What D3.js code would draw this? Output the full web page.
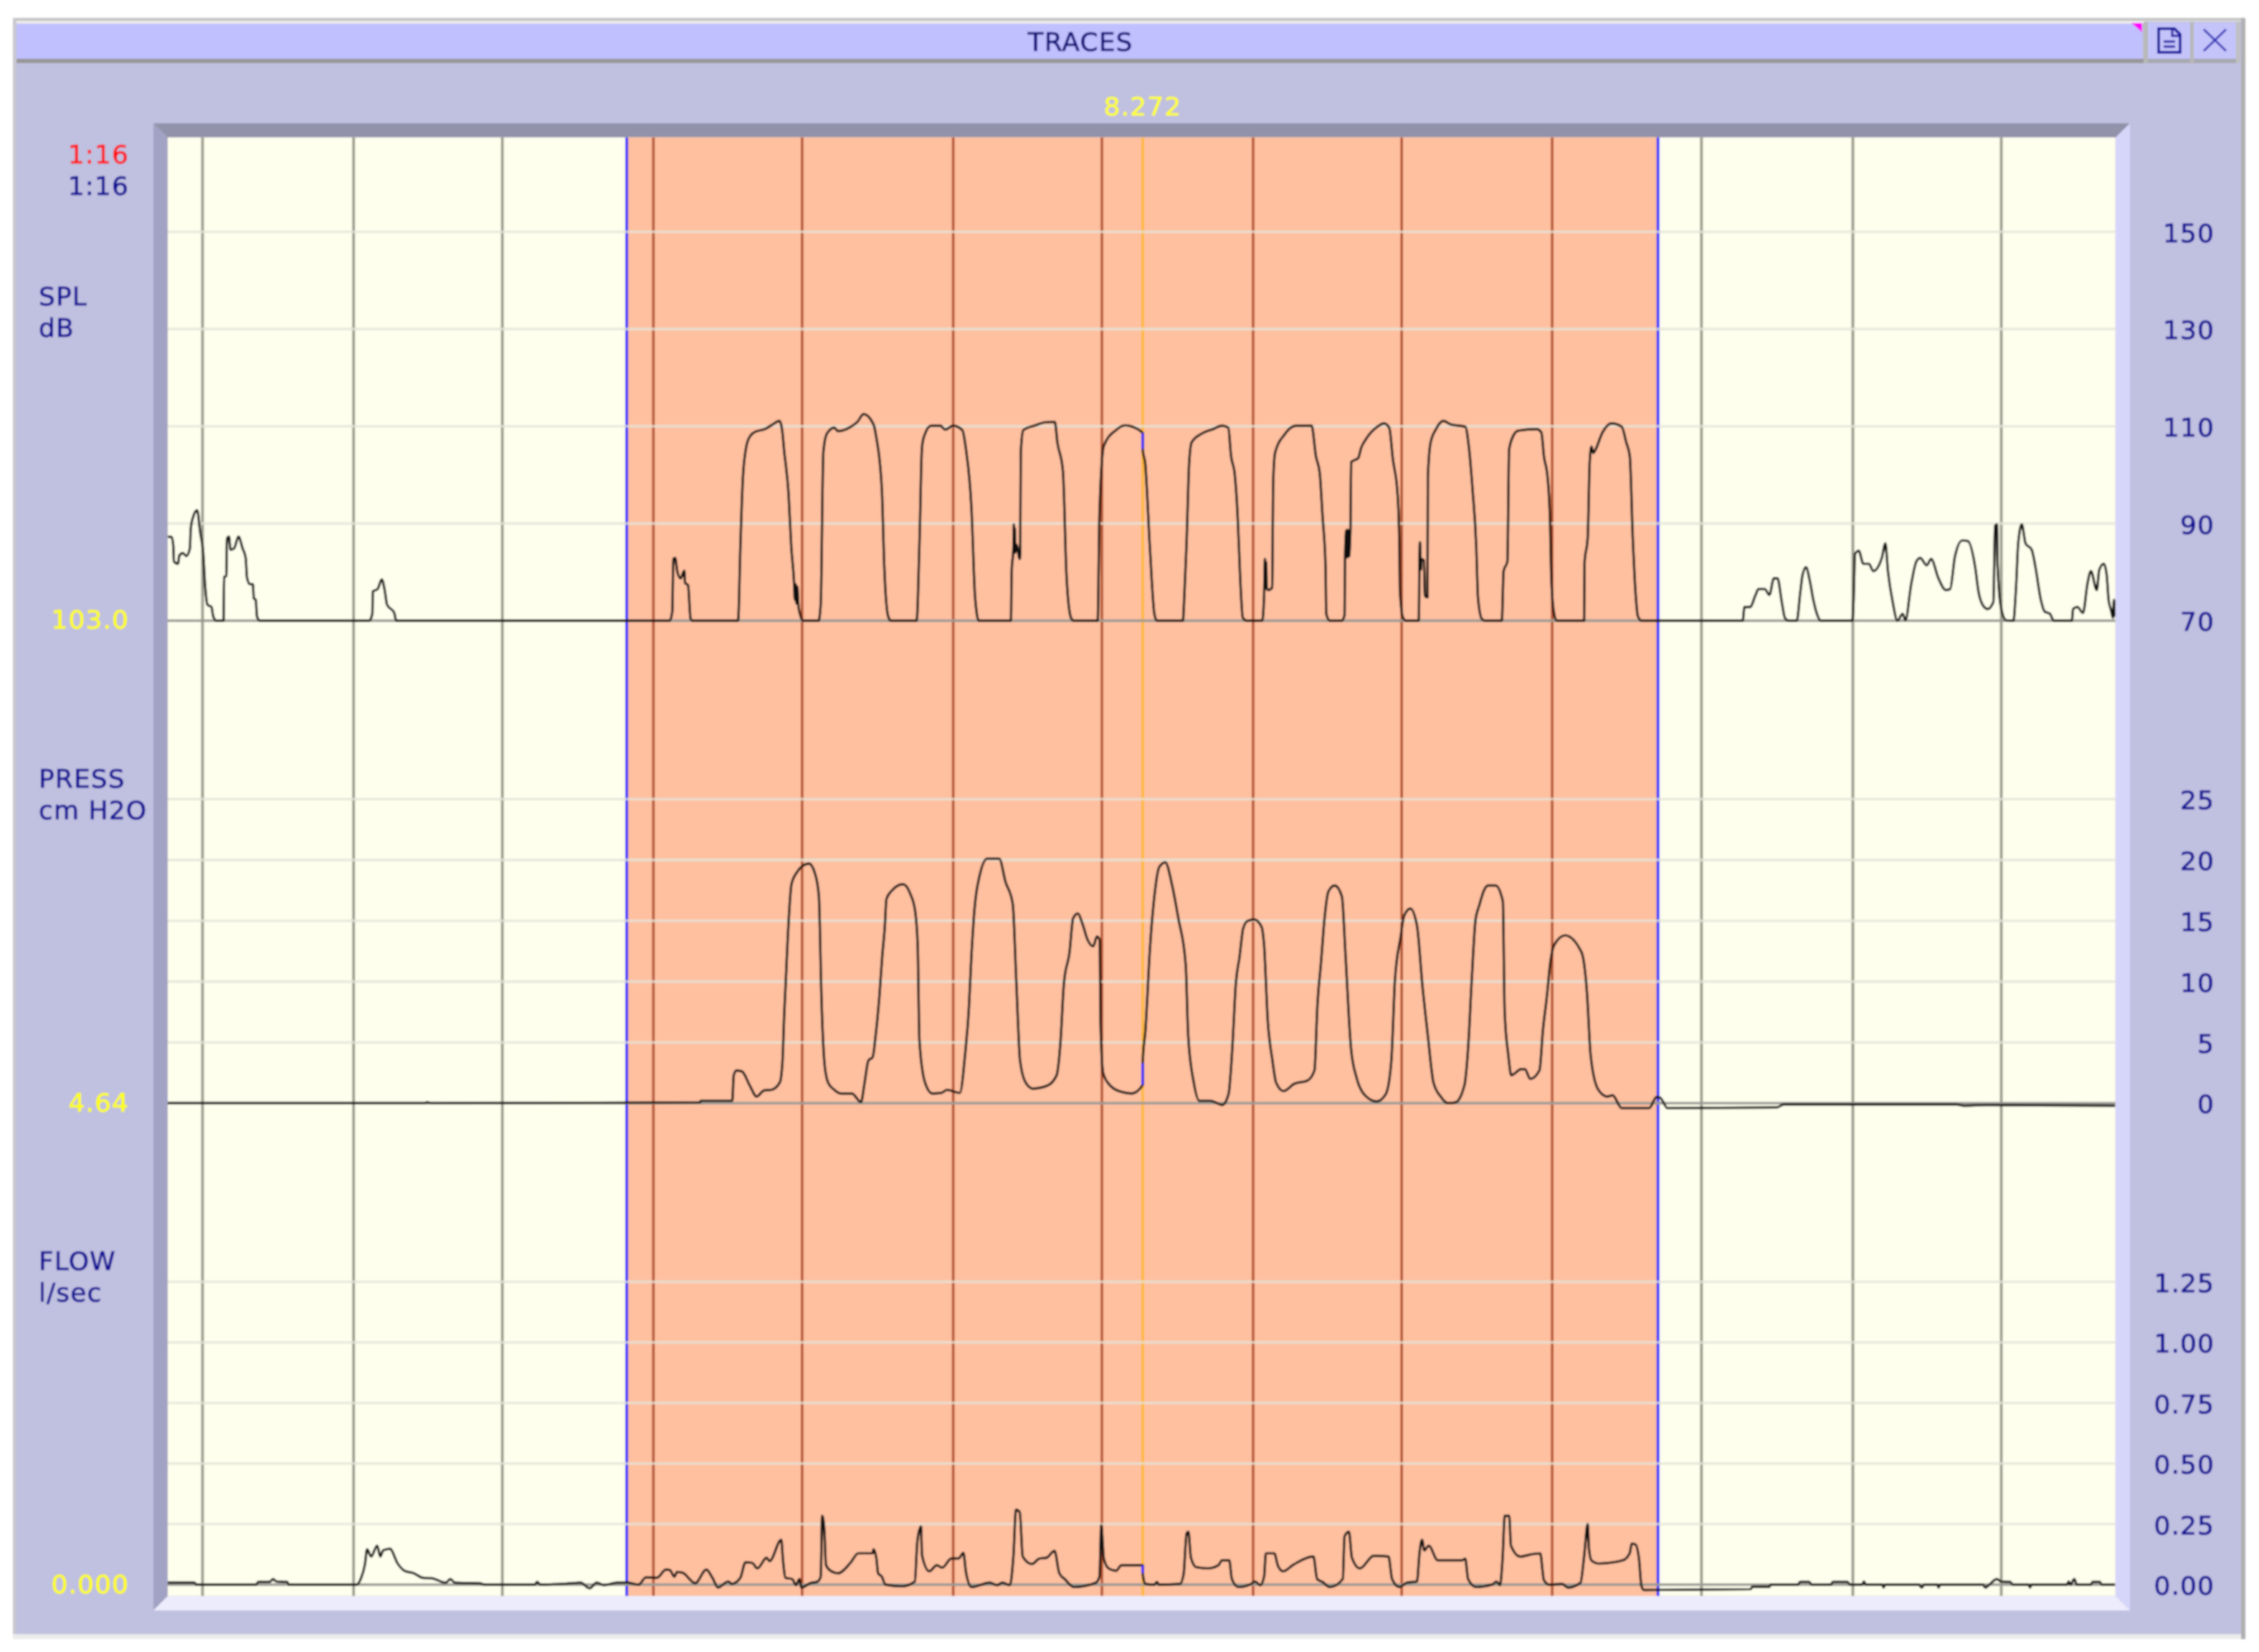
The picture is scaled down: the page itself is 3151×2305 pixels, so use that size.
<!DOCTYPE html>
<html><head><meta charset="utf-8">
<script src="https://cdnjs.cloudflare.com/ajax/libs/d3/7.8.5/d3.min.js"></script>
<style>html,body{margin:0;padding:0;background:#fff}svg{display:block}text{font-family:"DejaVu Sans",sans-serif;font-size:36px;letter-spacing:1.1px;stroke-width:0.7px}</style>
</head><body><svg id="c" width="3151" height="2305"></svg>
<script>
const titleText = "TRACES";
const cursorTime = 8.272;
const cursorLabel = "8.272";
const selectionStart = 4.83, selectionEnd = 11.71;
const timeStart = 1.767, timeEnd = 14.76;
const outsideGridTimes = [2, 3.008, 4, 12, 13.01, 14];
const insideGridTimes = [5.008, 6, 7.008, 8, 9.009, 10, 11.004];
const splTicks = [150,130,110,90,70];
const pressTicks = [25,20,15,10,5,0];
const flowTicks = [1.25,1,0.75,0.5,0.25,0];

const splTrace = [[1.77,87.3],[1.794,87.2],[1.805,85.4],[1.809,82.2],[1.837,81.7],[1.845,83.4],[1.869,83.9],[1.892,83.3],[1.916,84.9],[1.921,88.8],[1.937,91.3],[1.964,92.7],[1.985,88.1],[2.004,84.1],[2.017,77.3],[2.033,73.3],[2.06,72.8],[2.071,70.9],[2.092,70],[2.14,70],[2.144,79],[2.159,79.2],[2.163,86.8],[2.176,87.3],[2.187,84.6],[2.211,84.9],[2.24,87.3],[2.267,84.9],[2.288,82.9],[2.296,79],[2.315,77.5],[2.336,77.5],[2.342,74.6],[2.355,74.3],[2.363,70.9],[2.383,70],[3.112,70],[3.133,71.4],[3.136,76],[3.168,76.5],[3.196,78.5],[3.215,76.3],[3.231,73.3],[3.279,71.6],[3.292,70],
[5.117,70],[5.134,71.9],[5.141,82.7],[5.153,82.9],[5.168,80],[5.19,78.7],[5.214,80.3],[5.219,77.8],[5.239,77.3],[5.256,70.4],[5.27,70],[5.573,70],[5.588,85.1],[5.605,99.4],[5.629,106],[5.654,108],[5.69,108.9],[5.751,109.4],[5.8,110.3],[5.849,111.1],[5.866,109.4],[5.88,105],[5.91,95.9],[5.927,85.6],[5.946,78],[5.952,74.3],[5.957,77.5],[5.963,73.5],[5.968,77],[5.976,72.8],[6.007,70],[6.11,70],[6.124,73.3],[6.142,104.8],[6.166,108.5],[6.215,109.7],[6.239,109],[6.325,109.9],[6.369,110.9],[6.41,112.5],[6.476,110.4],[6.495,107.7],[6.532,96.9],[6.549,80.5],[6.574,70.9],[6.593,70],[6.764,70],[6.783,86.1],[6.8,105.8],[6.817,108.2],[6.861,110.1],[6.922,110.1],[6.954,109.3],[7.008,110.1],[7.069,109.2],[7.093,105.3],[7.13,93],[7.154,74.8],[7.179,70],[7.393,70],[7.398,80],[7.41,85.1],[7.413,89.8],[7.416,85.6],[7.419,89],[7.422,84],[7.43,85.6],[7.452,82.7],[7.455,84],[7.459,104.8],[7.476,109.2],[7.557,110.2],[7.618,110.8],[7.686,110.9],[7.703,106.7],[7.74,100.8],[7.764,79.2],[7.794,70.6],[7.813,70],[7.972,70],[7.984,92],[8.013,106],[8.094,109.2],[8.155,110.2],[8.203,109.9],[8.272,108.6],[8.272,105.3],[8.289,102.3],[8.321,84.6],[8.35,71.4],[8.367,70],
[8.54,70],[8.55,75.1],[8.565,86.1],[8.582,102.3],[8.599,106.7],[8.667,108.5],[8.74,109.4],[8.801,110.1],[8.843,109.7],[8.862,103.8],[8.887,99.9],[8.906,91.3],[8.923,78.5],[8.94,70.6],[8.965,70],[9.07,70],[9.082,75.1],[9.088,82.7],[9.092,76.8],[9.096,82],[9.1,76.5],[9.111,76.3],[9.136,76.8],[9.143,98.6],[9.155,104.5],[9.216,108.2],[9.297,110.1],[9.399,110.1],[9.428,103.8],[9.453,100.4],[9.472,91.5],[9.492,81],[9.497,71.4],[9.521,70],[9.599,70],[9.619,71.1],[9.622,83.2],[9.631,88.6],[9.636,83],[9.641,88.7],[9.648,83.2],[9.658,88.8],[9.663,102.6],[9.711,103.5],[9.729,105.5],[9.765,107.5],[9.838,109.9],[9.882,110.6],[9.917,109.7],[9.941,103.3],[9.973,95.9],[9.985,85.1],[9.988,76.3],[10.009,70.6],[10.029,70],[10.114,70],[10.119,83.2],[10.122,86.1],[10.128,80.5],[10.131,82.7],[10.148,82.4],[10.155,75.1],[10.172,74.8],[10.175,99.6],[10.192,106.5],[10.229,109.4],[10.278,111.1],[10.326,110.4],[10.424,109.9],[10.448,105.8],[10.473,96.9],[10.497,85.6],[10.509,74.8],[10.534,70.4],[10.558,70],[10.668,70],[10.68,80.2],[10.705,82.2],[10.717,105.3],[10.753,108.5],[10.778,109.1],[10.9,109.4],[10.932,108.7],[10.949,103.8],[10.973,99.6],[10.99,90.5],[10.997,80.2],[11.014,71.9],[11.034,70],[11.217,70],[11.22,81.9],[11.241,87.1],[11.254,102.3],[11.266,105.8],[11.278,104.5],[11.29,105],[11.339,108.7],[11.4,110.6],[11.468,109.9],[11.498,106.7],[11.522,103.8],[11.541,87.6],[11.559,76.3],[11.576,70.9],[11.6,70],
[12.275,70],[12.287,72.8],[12.324,72.8],[12.361,75.3],[12.38,76.5],[12.422,76.5],[12.453,75.3],[12.483,78.7],[12.507,78.7],[12.536,73.8],[12.556,70.6],[12.58,70],[12.636,70],[12.658,75.5],[12.673,79.2],[12.697,81],[12.722,78.3],[12.746,74.3],[12.776,70.9],[12.795,70],[13.007,70],[13.015,74.3],[13.024,83.7],[13.049,84.4],[13.08,81.7],[13.117,81.7],[13.146,80.2],[13.203,82.9],[13.227,85.9],[13.244,80.2],[13.276,73.8],[13.307,70],[13.342,71.4],[13.361,70.1],[13.398,77.3],[13.434,82.2],[13.459,82.9],[13.503,81.4],[13.532,82.7],[13.581,78.7],[13.63,76.3],[13.659,76.5],[13.691,83.2],[13.739,86.5],[13.776,86.4],[13.825,81.2],[13.849,75.8],[13.886,72.8],[13.91,72.4],[13.947,73.8],[13.959,89.5],[13.971,89.8],[13.976,81.2],[14,72.4],[14.032,70.1],[14.081,70],[14.098,76.5],[14.113,85.9],[14.137,89.8],[14.162,85.9],[14.203,84.6],[14.227,81.2],[14.264,74.3],[14.289,71.9],[14.325,71.4],[14.35,70],[14.471,70],[14.479,72.4],[14.508,72.8],[14.545,71.6],[14.576,77.8],[14.598,80.2],[14.637,76.3],[14.654,80.5],[14.684,81.7],[14.703,79.5],[14.716,74.3],[14.733,72.1],[14.745,70.6],[14.752,74.3],[14.76,70.8]];

const pressTrace = [[1.767,0],[3.48,0],[3.5,0.08],[3.52,0],[5.319,0.06],[5.324,0.2],[5.534,0.2],[5.544,2.3],[5.563,2.7],[5.6,2.6],[5.649,1.5],[5.697,0.55],[5.746,1.05],[5.795,1.1],[5.851,1.7],[5.868,3.2],[5.88,7.1],[5.905,13.8],[5.929,18],[5.966,19],[6.002,19.5],[6.046,19.7],[6.088,18.8],[6.112,17],[6.129,8.7],[6.149,3.3],[6.173,1.7],[6.21,1.15],[6.259,0.8],[6.332,0.8],[6.393,0.1],[6.417,1.7],[6.442,3.5],[6.471,3.8],[6.49,5.5],[6.515,8.7],[6.534,12],[6.551,14.4],[6.563,16.8],[6.6,17.5],[6.673,18],[6.722,17.2],[6.754,15.8],[6.771,13],[6.783,5.1],[6.82,1.7],[6.869,0.8],[6.93,0.85],[6.966,1.1],[7.052,0.85],[7.088,4.1],[7.113,7.9],[7.125,11],[7.149,15.8],[7.186,18.8],[7.235,20.1],[7.315,20.1],[7.357,18.2],[7.405,16.4],[7.43,9.7],[7.454,3.5],[7.491,1.7],[7.54,1.2],[7.637,1.45],[7.698,2.3],[7.723,4.9],[7.747,9.9],[7.784,12.4],[7.808,15.2],[7.84,15.6],[7.869,14.8],[7.906,13.4],[7.942,12.9],[7.967,13.7],[7.986,13.4],[7.991,6.7],[8.008,2.5],[8.052,1.5],[8.125,0.95],[8.198,0.8],[8.272,1.5],[8.272,3.3],[8.291,6.1],[8.321,12.8],[8.35,17],[8.382,19.4],[8.423,19.8],[8.467,18],[8.51,15.2],[8.559,11.4],[8.576,5.5],[8.613,1.7],[8.65,0.2],[8.723,0.2],[8.804,-0.14],[8.845,0.75],[8.869,4.3],[8.894,9.9],[8.918,12],[8.943,14.4],[8.974,15],[9.016,15.1],[9.065,14.5],[9.082,13],[9.106,6.9],[9.138,3.5],[9.162,1.7],[9.211,1],[9.284,1.6],[9.37,1.85],[9.418,2.7],[9.438,8.1],[9.462,11.6],[9.487,15.4],[9.511,17.4],[9.553,17.9],[9.601,17],[9.626,12],[9.662,4.5],[9.699,2.1],[9.748,0.75],[9.833,0.15],[9.894,0.75],[9.931,3.5],[9.955,10.1],[9.992,13.6],[10.016,15.4],[10.058,16],[10.102,14.6],[10.138,9.7],[10.175,5.5],[10.212,1.7],[10.26,0.55],[10.309,0],[10.358,0.06],[10.419,1.5],[10.443,4.5],[10.468,10.3],[10.492,15],[10.516,16.2],[10.553,17.6],[10.577,17.9],[10.626,17.9],[10.675,16.6],[10.687,7.5],[10.712,3.9],[10.731,2.3],[10.797,2.8],[10.822,2.8],[10.858,2],[10.919,2.7],[10.943,6.1],[10.968,8.7],[10.992,11.6],[11.017,13],[11.09,13.8],[11.2,12.4],[11.236,9.1],[11.261,3.9],[11.31,1.15],[11.371,0.55],[11.407,0.65],[11.468,-0.4],[11.651,-0.4],[11.7,0.5],[11.724,0.45],[11.773,-0.4],[12.5,-0.35],[12.55,-0.1],[13.7,-0.1],[13.75,-0.2],[13.9,-0.15],[14.76,-0.2]];

const flowTrace = [[1.768,0.008],[1.945,0.008],[1.96,0],[2.357,0],[2.372,0.011],[2.448,0.011],[2.47,0.023],[2.494,0.013],[2.564,0.011],[2.576,0],[3.028,0],[3.058,0.028],[3.083,0.082],[3.098,0.146],[3.125,0.116],[3.165,0.161],[3.186,0.116],[3.205,0.141],[3.25,0.148],[3.302,0.087],[3.348,0.057],[3.409,0.047],[3.47,0.028],[3.531,0.026],[3.623,0.008],[3.653,0.023],[3.683,0.008],[3.851,0.005],[3.882,0],[4.217,0],[4.232,0.011],[4.254,0],[4.446,0.005],[4.522,0.008],[4.583,-0.015],[4.629,0.008],[4.68,-0.002],[4.766,0.008],[4.833,0.008],[4.909,0],[4.958,0.03],[5.031,0.028],[5.092,0.062],[5.117,0.06],[5.148,0.033],[5.165,0.052],[5.202,0.049],[5.287,0.006],[5.361,0.062],[5.402,0.028],[5.439,-0.012],[5.507,0.013],[5.531,0.003],[5.588,0.028],[5.622,0.092],[5.666,0.09],[5.702,0.067],[5.763,0.111],[5.783,0.097],[5.861,0.185],[5.873,0.097],[5.89,0.028],[5.934,0.023],[5.959,-0.002],[5.983,0.023],[5.995,-0.012],[6.056,0.006],[6.105,0.013],[6.124,0.033],[6.134,0.284],[6.149,0.22],[6.159,0.082],[6.19,0.057],[6.239,0.047],[6.325,0.092],[6.374,0.129],[6.471,0.129],[6.476,0.146],[6.495,0.111],[6.507,0.047],[6.532,0.033],[6.556,0],[6.666,-0.007],[6.752,0.013],[6.769,0.18],[6.793,0.24],[6.8,0.121],[6.849,0.055],[6.898,0.08],[6.935,0.07],[6.996,0.108],[7.044,0.108],[7.076,0.131],[7.093,0.052],[7.13,-0.01],[7.252,0.008],[7.301,-0.002],[7.337,0.008],[7.386,-0.002],[7.41,0.121],[7.427,0.309],[7.452,0.299],[7.472,0.116],[7.533,0.085],[7.581,0.107],[7.63,0.111],[7.684,0.139],[7.716,0.047],[7.752,0.023],[7.813,-0.01],[7.96,0.008],[7.984,0.033],[7.996,0.245],[8.013,0.107],[8.045,0.067],[8.094,0.057],[8.13,0.08],[8.272,0.08],[8.272,0.047],[8.289,0.003],[8.35,0],[8.367,0.011],[8.38,0],[8.521,0.003],[8.545,0.042],[8.565,0.21],[8.577,0.218],[8.594,0.111],[8.63,0.072],[8.704,0.067],[8.777,0.08],[8.801,0.1],[8.85,0.1],[8.867,0.023],[8.911,-0.01],[8.996,0.003],[9.021,0.013],[9.057,-0.002],[9.082,0.033],[9.094,0.129],[9.15,0.129],[9.175,0.077],[9.209,0.055],[9.277,0.082],[9.411,0.116],[9.436,0.023],[9.472,0.011],[9.521,-0.01],[9.607,0.023],[9.619,0.2],[9.648,0.218],[9.668,0.111],[9.721,0.067],[9.814,0.119],[9.912,0.116],[9.936,0.023],[9.985,-0.01],[10.034,0.008],[10.102,0.013],[10.119,0.131],[10.136,0.185],[10.151,0.141],[10.18,0.161],[10.241,0.1],[10.4,0.1],[10.424,0.107],[10.443,0.023],[10.497,-0.01],[10.607,0.001],[10.631,0.013],[10.656,-0.002],[10.673,0.107],[10.688,0.284],[10.717,0.284],[10.729,0.161],[10.79,0.116],[10.875,0.126],[10.924,0.129],[10.949,0.018],[10.985,0],[11.071,0.003],[11.108,-0.012],[11.193,0.008],[11.217,0.116],[11.241,0.25],[11.249,0.151],[11.266,0.1],[11.315,0.087],[11.474,0.1],[11.522,0.131],[11.534,0.169],[11.559,0.166],[11.583,0.107],[11.6,-0.007],[11.615,-0.022],[12.327,-0.019],[12.339,-0.009],[12.454,-0.009],[12.461,0],[12.644,0],[12.657,0.011],[12.718,0.011],[12.737,0],[12.864,0],[12.876,0.011],[12.974,0.011],[12.991,0],[13.071,0],[13.084,0.013],[13.096,0],[13.206,0],[13.215,-0.012],[13.225,0],[13.45,0],[13.469,-0.012],[13.486,0],[13.572,0],[13.582,-0.012],[13.591,0],[13.877,0],[13.894,-0.012],[13.926,0.003],[13.969,0.023],[13.999,0.013],[14.06,0.011],[14.077,0],[14.182,0],[14.192,-0.012],[14.201,0],[14.438,0],[14.45,0.013],[14.462,0],[14.487,0.023],[14.504,0],[14.597,0],[14.609,0.011],[14.658,0.011],[14.67,0],[14.758,0]];

const svg = d3.select("#c");
const defs = svg.append("defs");
defs.append("filter").attr("id","soft").attr("filterUnits","userSpaceOnUse").attr("x",0).attr("y",0).attr("width",3151).attr("height",2305)
  .append("feGaussianBlur").attr("stdDeviation",0.9);
const plot = {l:234,r:2950.7,t:191.7,b:2226.7};
defs.append("clipPath").attr("id","plotclip").append("rect")
  .attr("x",plot.l).attr("y",plot.t).attr("width",plot.r-plot.l).attr("height",plot.b-plot.t);
const root = svg.append("g").attr("filter","url(#soft)");

const x = d3.scaleLinear().domain([2,14]).range([282.5,2791.5]);
const ySpl = d3.scaleLinear().domain([70,150]).range([866,323.5]);
const yPress = d3.scaleLinear().domain([0,25]).range([1539.3,1115]);
const yFlow = d3.scaleLinear().domain([0,1.25]).range([2211,1788.5]);

const rect=(a,b,c,d,f)=>root.append("rect").attr("x",a).attr("y",b).attr("width",c-a).attr("height",d-b).attr("fill",f);
const poly=(p,f)=>root.append("polygon").attr("points",p.join(" ")).attr("fill",f);
// window chrome
rect(18,25,3132,2287,"#ececec");
rect(18,25,3132,29,"#c4c4c4");
rect(18,25,23,2280,"#c8c8d0");
rect(3126,25,3132,2287,"#b0b0b0");
rect(23,30,3126,2280,"#c0c0e0");
rect(23,30,2991,33,"#ececec");
rect(23,33,2988,82,"#c0c0ff");
rect(23,82,2990,88,"#969696");
rect(2990,30,2996,88,"#b8b8b8");
rect(2996,32,3055,82,"#c4c4fa");
rect(2996,82,3055,88,"#a8a8b0");
rect(3055,30,3060,88,"#b8b8b8");
rect(3060,32,3119,82,"#c4c4fa");
rect(3060,82,3119,88,"#a8a8b0");
rect(3119,30,3124,88,"#c0c0c0");
poly(["2973,32","2988,32","2988,45"],"#ff00ff");
// buttons
root.append("path").attr("d","M3011 40H3033L3041 48V73H3011Z").attr("fill","none").attr("stroke","#1414a0").attr("stroke-width",4);
root.append("path").attr("d","M3030 41V50H3040M3018 58H3034M3018 65H3034").attr("fill","none").attr("stroke","#1414a0").attr("stroke-width",3);
root.append("path").attr("d","M3074 41L3105 71M3105 41L3074 71").attr("fill","none").attr("stroke","#3030b8").attr("stroke-width",3);
// bevel
poly(["214,172","2971,172","2951,192","234,192"],"#9292aa");
poly(["214,172","234,192","234,2227","214,2247"],"#a2a2c4");
poly(["2971,172","2951,192","2951,2227","2971,2247"],"#d6d6fa");
poly(["214,2247","234,2227","2951,2227","2971,2247"],"#ececfc");
// plot
rect(plot.l,plot.t,plot.r,plot.b,"#ffffee");
root.append("rect").attr("x",x(selectionStart)).attr("y",plot.t).attr("width",x(selectionEnd)-x(selectionStart)).attr("height",plot.b-plot.t).attr("fill","#ffc0a0");

const vline=(data,col,w)=>root.append("g").selectAll("line").data(data).join("line")
  .attr("x1",d=>x(d)).attr("x2",d=>x(d)).attr("y1",plot.t).attr("y2",plot.b).attr("stroke",col).attr("stroke-width",w);
vline(outsideGridTimes,"#98988a",3.8);
vline(insideGridTimes,"#b04e28",3.5);
vline([selectionStart,selectionEnd],"#1c1cff",3.8);
vline([cursorTime],"#ffb830",3.6);

const hgrid=(ticks,y)=>{
  root.append("g").selectAll("line").data(ticks.filter((d,i)=>i<ticks.length-1)).join("line")
    .attr("x1",plot.l).attr("x2",plot.r).attr("y1",d=>y(d)).attr("y2",d=>y(d))
    .attr("stroke","#e4e4d8").attr("stroke-opacity",0.8).attr("stroke-width",3.6);
  root.append("line").attr("x1",plot.l).attr("x2",plot.r).attr("y1",y(ticks[ticks.length-1])).attr("y2",y(ticks[ticks.length-1]))
    .attr("stroke","#9a9a94").attr("stroke-width",3.4);
};
hgrid(splTicks,ySpl);hgrid(pressTicks,yPress);hgrid(flowTicks,yFlow);

const traces=root.append("g").attr("clip-path","url(#plotclip)");
const drawTrace=(data,y)=>{
  const ln=d3.line().x(d=>x(d[0])).y(d=>y(d[1])).curve(d3.curveMonotoneX);
  traces.append("path").attr("d",ln(data)).attr("fill","none").attr("stroke","#101010").attr("stroke-width",3.4).attr("stroke-linejoin","round");
  const seg=data.filter(d=>d[0]===cursorTime);
  traces.append("path").attr("d",d3.line().x(d=>x(d[0])).y(d=>y(d[1]))(seg)).attr("fill","none").attr("stroke","#1c1cff").attr("stroke-width",3.8);
};
drawTrace(splTrace,ySpl);drawTrace(pressTrace,yPress);drawTrace(flowTrace,yFlow);

const navy="#0a0a94";
// right axes
const axis=(y,ticks,fmt)=>{
  const g=root.append("g").attr("transform","translate(3089,0)")
    .call(d3.axisLeft(y).tickValues(ticks).tickSize(0).tickPadding(0).tickFormat(fmt));
  g.select(".domain").remove();
  g.attr("font-family",null).attr("font-size",null);
  g.selectAll("text").attr("fill",navy).attr("stroke",navy).attr("dy","0.38em").attr("text-anchor","end");
};
axis(ySpl,splTicks,d3.format("d"));
axis(yPress,pressTicks,d3.format("d"));
axis(yFlow,flowTicks,d3.format(".2f"));

const label=(t,xp,yp,col,anchor)=>root.append("text").text(t).attr("x",xp).attr("y",yp).attr("fill",col).attr("stroke",col).attr("text-anchor",anchor||"start").attr("dy","0.36em");
label(titleText,1507,58,"#101078","middle");
label(cursorLabel,x(cursorTime),148,"#ffff30","middle");
label("1:16",180,215,"#ff1010","end");
label("1:16",180,259,navy,"end");
label("SPL",54,413,navy);
label("dB",54,457,navy);
label("PRESS",54,1086,navy);
label("cm H2O",54,1130,navy);
label("FLOW",54,1759,navy);
label("l/sec",54,1803,navy);
label("103.0",180,864,"#ffff10","end");
label("4.64",180,1538,"#ffff10","end");
label("0.000",180,2210,"#ffff10","end");
</script></body></html>
